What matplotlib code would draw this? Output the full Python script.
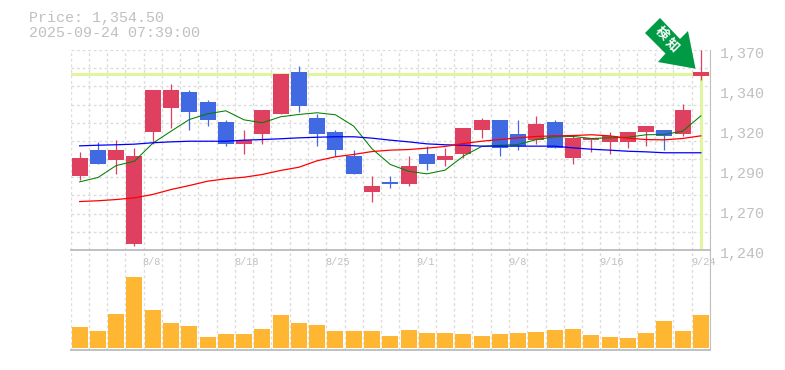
import numpy as np
import matplotlib
matplotlib.use("Agg")
import matplotlib.pyplot as plt
from matplotlib.patches import Polygon

# prices
opens = [1287.8, 1305.3, 1298.2, 1244.2, 1316.4, 1332.6, 1342.4, 1335.9, 1322.9, 1309.2, 1315.1, 1328.7, 1355.4, 1325.5, 1316.4, 1301.4, 1277.4, 1283.9,
         1283.2, 1302.7, 1298.2, 1302.1, 1317.7, 1324.8, 1315.1, 1311.2, 1323.5, 1300.1, 1311.2, 1309.9, 1309.9, 1317, 1318.3, 1315.1, 1352.8]
closes = [1299.5, 1295.6, 1304.7, 1300.8, 1343.7, 1344.3, 1330, 1324.8, 1309.2, 1311.8, 1330.7, 1354.7, 1333.3, 1315.7, 1304.7, 1289.7, 1281.9, 1283.2,
          1294.3, 1296.2, 1300.8, 1319.6, 1324.8, 1306.6, 1307.9, 1322.2, 1306, 1313.1, 1312.5, 1314.4, 1316.4, 1320.3, 1313.8, 1330.7, 1355.4]
highs = [1304, 1310.5, 1311.8, 1306.6, 1344.3, 1348.2, 1343.7, 1337.8, 1324.8, 1318.3, 1330.7, 1354.7, 1359.9, 1328.1, 1317.7, 1305.3, 1287.8, 1287.8,
         1300.8, 1307.9, 1306, 1319.6, 1325.5, 1324.8, 1324.8, 1327.4, 1324.8, 1314.4, 1313.1, 1316.4, 1316.4, 1320.9, 1318.3, 1335.2, 1370]
lows = [1285.2, 1295.6, 1289.1, 1242.9, 1309.2, 1319.6, 1317.7, 1320.9, 1307.9, 1302.7, 1309.2, 1328.1, 1330, 1307.3, 1300.8, 1289.7, 1271.5, 1280,
        1281.3, 1291.7, 1294.3, 1299.5, 1312.5, 1300.8, 1305.3, 1309.2, 1306, 1296.2, 1304, 1302.7, 1306.6, 1307.3, 1304.7, 1313.8, 1350.8]

ma_short = [1284.3, 1287.1, 1294.9, 1297.7, 1309.4, 1317.2, 1324.8, 1328.5, 1330.5, 1324.6, 1322.7, 1326.6, 1328.1, 1329.2, 1327.9, 1320.5, 1305.8, 1295.6,
            1291.2, 1289.5, 1291.9, 1301, 1307.3, 1308.1, 1308.6, 1311.8, 1313.6, 1313.8, 1312.5, 1312.9, 1313.3, 1314.9, 1315.1, 1317.2, 1327.2]
ma_mid = [1307.7, 1308.1, 1308.4, 1308.8, 1309.7, 1310.3, 1310.7, 1310.7, 1310.7, 1311.4, 1311.8, 1312.3, 1312.9, 1313.3, 1313.6, 1313.6, 1312.7, 1311.4,
          1310.3, 1309, 1308.4, 1308.1, 1307.5, 1307.5, 1307.5, 1307.5, 1307.5, 1306.4, 1305.5, 1304.9, 1304.2, 1303.8, 1303.2, 1303.2, 1303.2]
ma_long = [1271.5, 1272, 1272.8, 1273.9, 1276.1, 1279.3, 1281.9, 1284.7, 1286.3, 1287.3, 1289.1, 1291.7, 1293.8, 1298, 1300.6, 1302.1, 1304, 1304.9,
           1305.3, 1306.2, 1307.3, 1309.2, 1310.7, 1311.8, 1312.9, 1313.8, 1314.2, 1314.4, 1314.9, 1314.2, 1312.7, 1311.8, 1311.6, 1312.5, 1314.2]

volumes = [63, 51, 102, 213, 114, 75, 66, 33, 42, 42, 57, 99, 75, 69, 51, 51, 51, 36,
           54, 45, 45, 42, 36, 42, 45, 48, 54, 57, 39, 33, 30, 45, 81, 51, 99]

date_idx = [4, 9, 14, 19, 24, 29, 34]
date_labels = ["8/8", "8/18", "8/25", "9/1", "9/8", "9/16", "9/24"]
price_ticks = [1240, 1270, 1290, 1320, 1340, 1370]
price_tick_pos = [1240, 1266, 1292, 1318, 1344, 1370]
last_price = 1354.5

W, H = 785, 370
RED = "#e04060"
BLUE = "#4169e1"
GRAY = "#c0c0c0"
GRID = "#dcdcdc"
PALE = "#e0f5a0"
MONO = "Liberation Mono"

fig = plt.figure(figsize=(W / 100, H / 100), dpi=100)
ax = fig.add_axes([70.5 / W, 1 - 250 / H, 639.5 / W, 200 / H])
vol = fig.add_axes([70.5 / W, 1 - 350 / H, 639.5 / W, 100 / H])

xs = np.arange(len(opens))
for a in (ax, vol):
    a.set_xlim(-0.5, len(opens) - 0.5)
    a.set_xticks(np.arange(-0.5, len(opens), 1))
    a.tick_params(length=0, labelbottom=False, labelleft=False)
    a.grid(axis="x", color=GRID, linestyle=(0, (2, 2)), linewidth=1)
    a.set_axisbelow(True)
    for s in a.spines.values():
        s.set_visible(False)
    a.patch.set_alpha(0)

ax.set_ylim(1240, 1370)
ax.set_yticks(np.linspace(1240, 1370, 12))
ax.grid(axis="y", color=GRID, linestyle=(0, (2, 2)), linewidth=1)
ax.spines["right"].set_visible(True)
ax.spines["right"].set_color(GRAY)
ax.spines["bottom"].set_visible(True)
ax.spines["bottom"].set_color(GRAY)
ax.spines["bottom"].set_linewidth(1.4)

# last price cross
ax.axhline(last_price, color=PALE, linewidth=2.2, zorder=1)
ax.plot([34, 34], [1240.8, last_price], color=PALE, linewidth=2.2, zorder=1, solid_capstyle="butt")

for i in xs:
    col = RED if closes[i] >= opens[i] else BLUE
    ax.plot([i, i], [lows[i], highs[i]], color=col, linewidth=0.9, zorder=2, solid_capstyle="butt", clip_on=False)
    ax.bar(i, abs(closes[i] - opens[i]), bottom=min(opens[i], closes[i]), width=0.875, color=col, zorder=3)

ax.plot(xs, ma_short, color="#008000", linewidth=0.75, zorder=4)
ax.plot(xs, ma_mid, color="#0000ff", linewidth=0.9, zorder=4)
ax.plot(xs, ma_long, color="#ff0000", linewidth=0.9, zorder=4)

for pos, lab in zip(price_tick_pos, price_ticks):
    ax.annotate(f"{lab:,}", (1, pos), xycoords=("axes fraction", "data"), xytext=(7.4, -3), textcoords="offset points",
                color=GRAY, fontsize=10.8, family=MONO, va="center", ha="left", annotation_clip=False)

vol.set_ylim(-6, 294)
vol.bar(xs, volumes, width=0.875, color="#ffb733", zorder=3)
vol.spines["bottom"].set_visible(True)
vol.spines["bottom"].set_color(GRAY)
vol.spines["bottom"].set_linewidth(1.4)
vol.spines["right"].set_visible(True)
vol.spines["right"].set_color(GRAY)
for i, lab in zip(date_idx, date_labels):
    vol.text(i - 0.55, 0.88, lab, transform=vol.get_xaxis_transform(), color=GRAY, fontsize=7.4, family=MONO,
             ha="left", va="center", zorder=5)

fig.text(29 / W, 1 - 18 / H, "Price: 1,354.50", color=GRAY, fontsize=10.8, family=MONO, va="center")
fig.text(29 / W, 1 - 33 / H, "2025-09-24 07:39:00", color=GRAY, fontsize=10.8, family=MONO, va="center")

# arrow badge, figure pixels
arrow = np.array([[660, 18], [645, 33], [665.5, 53.5], [658, 62], [695.5, 68.7], [688, 31], [680, 39]])
fig.add_artist(Polygon(np.c_[arrow[:, 0] / W, 1 - arrow[:, 1] / H], closed=True, facecolor="#009944",
                       edgecolor="none", transform=fig.transFigure, zorder=6))
for cx, cy, ch in [(661.5, 33, "検"), (672, 45, "知")]:
    fig.text(cx / W, 1 - cy / H, ch, color="white", fontsize=9.5, fontweight="bold", rotation=-45,
             family=["Noto Sans CJK JP", "DejaVu Sans"], ha="center", va="center", zorder=7)

fig.savefig("out.png", dpi=100)
